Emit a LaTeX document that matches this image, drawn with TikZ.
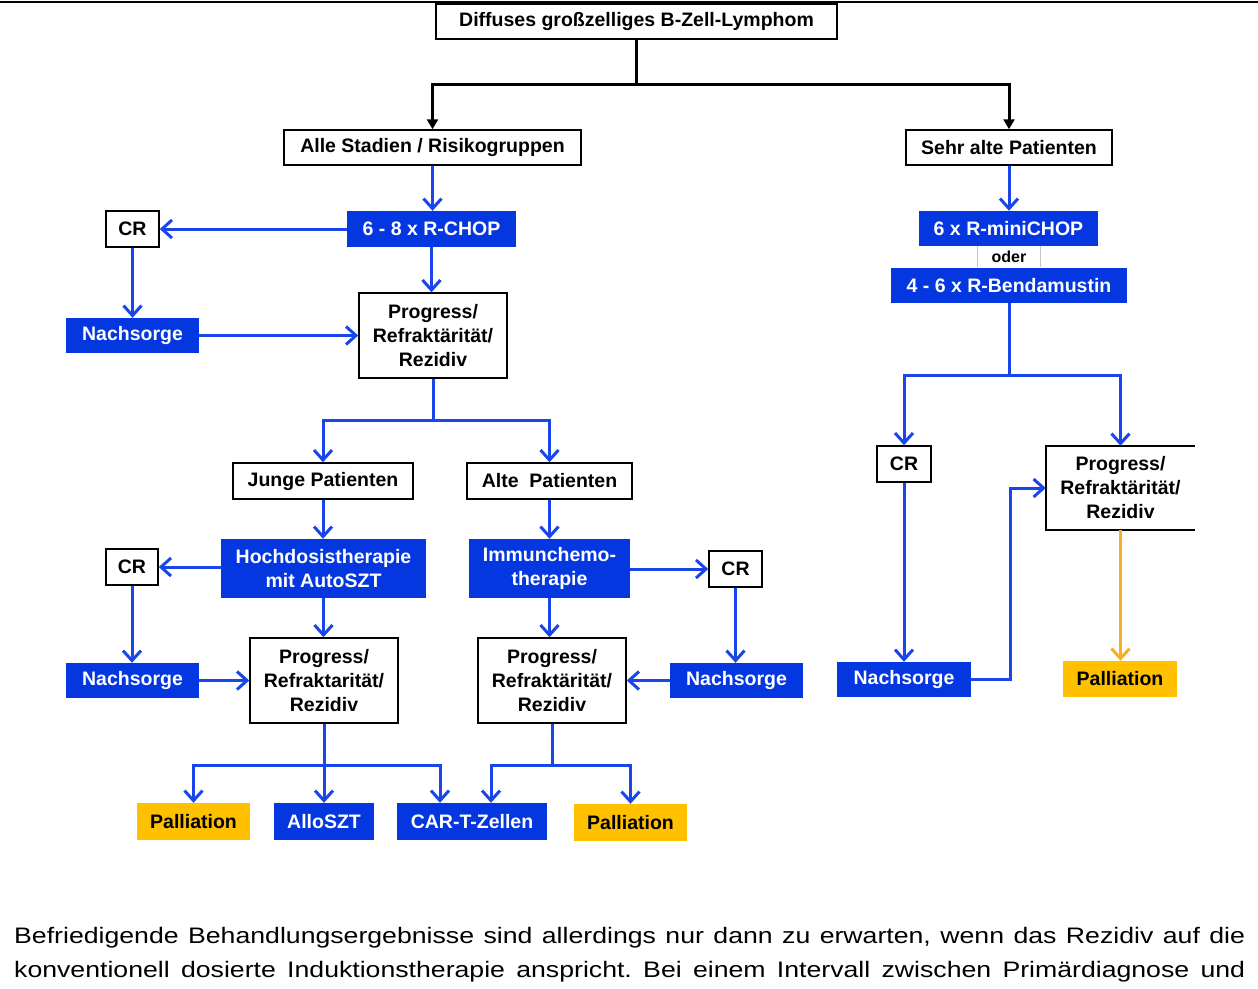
\documentclass[tikz,border=0pt]{standalone}
\usepackage{fontspec}
\setmainfont{Liberation Sans}
\newfontfamily\bodyfont{Liberation Sans}[FakeStretch=1.19]
\usetikzlibrary{arrows.meta}
\definecolor{dblue}{RGB}{5,55,225}
\definecolor{ablue}{RGB}{25,70,235}
\definecolor{pyellow}{RGB}{255,192,0}
\definecolor{aorange}{RGB}{245,175,40}
\frenchspacing
\begin{document}
\begin{tikzpicture}[x=1pt,y=-1pt,
  sz/.style 2 args={minimum width=#1,minimum height=#2},
  base/.style={inner sep=0pt,align=center,font=\bfseries\fontsize{19.5}{24}\selectfont},
  wbox/.style={base,draw=black,line width=1.5pt,fill=white},
  bbox/.style={base,fill=dblue,text=white},
  ybox/.style={base,fill=pyellow,text=black},
  boxline/.style={draw=black,line width=1.5pt},
  kline/.style={draw=black,line width=3pt},
  karrow/.style={kline,-{Triangle[length=10pt,width=11pt]}},
  barrow/.style={draw=ablue,line width=3pt,-{Straight Barb[length=10pt,width=18pt,line width=3pt]}},
  bline/.style={draw=ablue,line width=3pt},
  oarrow/.style={draw=aorange,line width=3pt,-{Straight Barb[length=10pt,width=18pt,line width=3pt]}}
]
\useasboundingbox (0,0) rectangle (1258,988);
\fill[white] (0,0) rectangle (1258,988);
\coordinate (tl) at (0,2);
\coordinate (tr) at (1258,2);
\draw[black,line width=2.5pt] (tl) -- (tr);

% nodes
\node[wbox,sz={401pt}{35pt}] (title) at (636.5,21.5) {Diffuses großzelliges B-Zell-Lymphom};
\node[wbox,sz={297pt}{35pt}] (alle) at (432.5,147.5) {Alle Stadien / Risikogruppen};
\node[wbox,sz={206pt}{35pt}] (sehr) at (1009,147.5) {Sehr alte Patienten};

\node[bbox,sz={169pt}{36pt}] (rchop) at (431.5,229) {6 - 8 x R-CHOP};
\node[wbox,sz={53pt}{36pt}] (cr1) at (132.5,229) {CR};
\node[bbox,sz={133pt}{35pt}] (ns1) at (132.5,335.5) {Nachsorge};
\node[wbox,sz={148pt}{85pt}] (prog1) at (433,335.5) {Progress/\\Refraktärität/\\Rezidiv};

\node[wbox,sz={180pt}{36pt}] (junge) at (323,481) {Junge Patienten};
\node[wbox,sz={165pt}{36pt}] (alte) at (549.5,481) {Alte\ \ Patienten};
\node[bbox,sz={205pt}{59pt}] (hd) at (323.5,568.5) {Hochdosistherapie\\mit AutoSZT};
\node[bbox,sz={161pt}{59pt}] (ic) at (549.5,568.5) {Immunchemo-\\therapie};
\node[wbox,sz={52pt}{36pt}] (cr2) at (132,567) {CR};
\node[wbox,sz={53pt}{36pt}] (cr3) at (735.5,569) {CR};
\node[bbox,sz={133pt}{35pt}] (ns2) at (132.5,680.5) {Nachsorge};
\node[wbox,sz={148pt}{85pt}] (prog2) at (324,680.5) {Progress/\\Refraktarität/\\Rezidiv};
\node[wbox,sz={148pt}{85pt}] (prog3) at (552,680.5) {Progress/\\Refraktärität/\\Rezidiv};
\node[bbox,sz={133pt}{35pt}] (ns3) at (736.5,680.5) {Nachsorge};

\node[ybox,sz={113pt}{37pt}] (pal1) at (193.5,821.5) {Palliation};
\node[bbox,sz={100pt}{37pt}] (allo) at (324,821.5) {AlloSZT};
\node[bbox,sz={150pt}{37pt}] (cart) at (472,821.5) {CAR-T-Zellen};
\node[ybox,sz={113pt}{37pt}] (pal2) at (630.5,822.5) {Palliation};

\node[bbox,sz={179pt}{35pt}] (mini) at (1008.5,228.5) {6 x R-miniCHOP};
\node[base,sz={62pt}{21pt},font=\bfseries\fontsize{16}{18}\selectfont] (oder) at (1009,256.5) {oder};
\draw[gray!45,line width=0.8pt] (oder.north west) -- (oder.south west) (oder.north east) -- (oder.south east);
\node[bbox,sz={236pt}{35pt}] (benda) at (1009,285.5) {4 - 6 x R-Bendamustin};
\node[wbox,sz={54pt}{36pt}] (cr4) at (904,464) {CR};
\node[base,sz={149pt}{84pt},fill=white] (prog4) at (1120.5,488) {Progress/\\Refraktärität/\\Rezidiv};
\draw[boxline] (prog4.north east) -- (prog4.north west) -- (prog4.south west) -- (prog4.south east);
\node[bbox,sz={134pt}{35pt}] (ns4) at (904,679.5) {Nachsorge};
\node[ybox,sz={114pt}{36pt}] (pal3) at (1120,679) {Palliation};

% black connectors
\coordinate (j0) at (636.5,84);
\draw[kline] (title.south) -- (j0);
\draw[karrow] (j0) -| (alle.north);
\draw[karrow] (j0) -| (sehr.north);

% left branch
\draw[barrow] (alle.south) -- (alle.south |- rchop.north);
\draw[barrow] (rchop.west) -- (cr1.east);
\draw[barrow] (cr1.south) -- (cr1.south |- ns1.north);
\draw[barrow] (ns1.east) -- (prog1.west);
\draw[barrow] (rchop.south) -- (rchop.south |- prog1.north);
\coordinate (j1) at (433,420);
\draw[bline] (prog1.south) -- (j1);
\draw[barrow] (j1) -| (junge.north);
\draw[barrow] (j1) -| (alte.north);
\draw[barrow] (junge.south) -- (junge.south |- hd.north);
\draw[barrow] (alte.south) -- (alte.south |- ic.north);
\draw[barrow] (hd.west |- cr2.east) -- (cr2.east);
\draw[barrow] (cr2.south) -- (cr2.south |- ns2.north);
\draw[barrow] (ns2.east |- prog2.west) -- (prog2.west);
\draw[barrow] (hd.south) -- (hd.south |- prog2.north);
\draw[barrow] (ic.east |- cr3.west) -- (cr3.west);
\draw[barrow] (cr3.south) -- (cr3.south |- ns3.north);
\draw[barrow] (ns3.west) -- (prog3.east);
\draw[barrow] (ic.south) -- (ic.south |- prog3.north);
\coordinate (j2) at (324,765);
\draw[bline] (prog2.south) -- (j2);
\draw[barrow] (j2) -| (pal1.north);
\draw[barrow] (j2) -- (allo.north);
\draw[barrow] (j2) -| ([xshift=-32pt]cart.north);
\coordinate (j3) at (552,765);
\draw[bline] (prog3.south) -- (j3);
\draw[barrow] (j3) -| ([xshift=19pt]cart.north);
\draw[barrow] (j3) -| (pal2.north);

% right branch
\draw[barrow] (sehr.south) -- (sehr.south |- mini.north);
\coordinate (j4) at (1009,375);
\draw[bline] (benda.south) -- (j4);
\draw[barrow] (j4) -| (cr4.north);
\draw[barrow] (j4) -| (prog4.north);
\draw[barrow] (cr4.south) -- (ns4.north);
\draw[barrow] (ns4.east) -- ++(39,0) |- (prog4.west);
\draw[oarrow] (prog4.south) -- (prog4.south |- pal3.north);

% paragraph
\node[anchor=base west,inner sep=0pt,font=\bodyfont\fontsize{22.4}{26}\selectfont] (p1) at (14,943)
  {\makebox[1231pt][s]{Befriedigende Behandlungsergebnisse sind allerdings nur dann zu erwarten, wenn das Rezidiv auf die}};
\node[anchor=base west,inner sep=0pt,font=\bodyfont\fontsize{22.4}{26}\selectfont] (p2) at (14,977)
  {\makebox[1231pt][s]{konventionell dosierte Induktionstherapie anspricht. Bei einem Intervall zwischen Primärdiagnose und}};
\end{tikzpicture}
\end{document}
